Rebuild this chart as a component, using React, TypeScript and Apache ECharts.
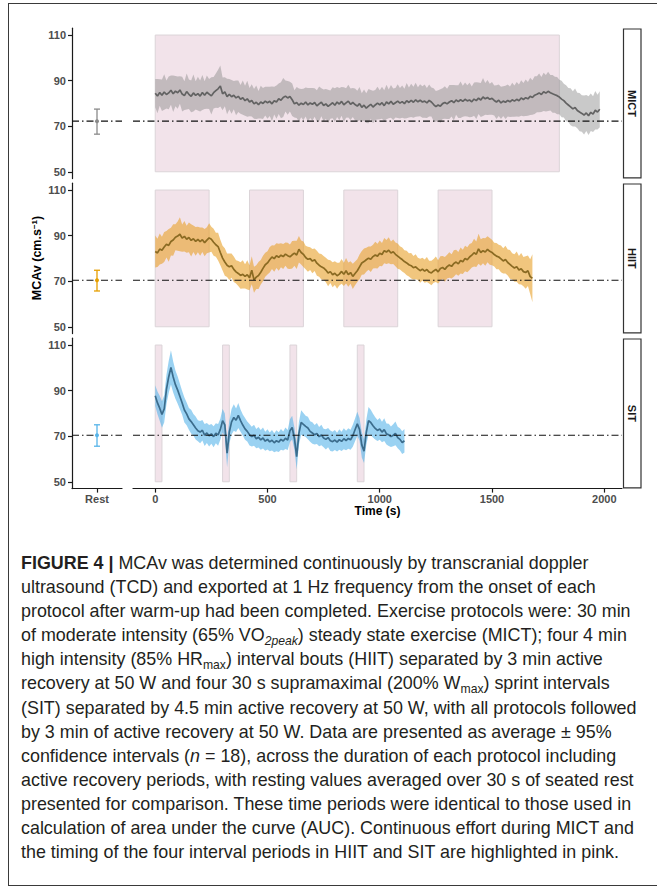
import React, { useEffect, useRef } from "react";
import * as echarts from "echarts";

// ---------- data ----------
const STEP = 10; // seconds between samples
const PROTOCOLS = ["MICT", "HIIT", "SIT"];
const X_TICKS = [0, 500, 1000, 1500, 2000];
const Y_TICKS = [50, 70, 90, 110];
const REST_LABEL = "Rest";
const REST_MEAN = [72.2, 70.4, 70.4];
const REST_LOW = [66.5, 65.7, 65.6];
const REST_HIGH = [77.5, 74.8, 75.0];
const BLOCK_Y = [50, 110];
const MICT_BLOCKS = [[0, 1800]];
const HIIT_BLOCKS = [[0, 240], [420, 660], [840, 1080], [1260, 1500]];
const SIT_BLOCKS = [[0, 30], [300, 330], [600, 630], [900, 930]];

const MICT_MEAN = [
  84.5, 83.2, 84.8, 83.6, 85.0, 83.9, 84.6, 85.8, 84.2, 85.4,
  84.7, 85.9, 84.1, 83.4, 85.2, 84.0, 83.1, 84.6, 83.5, 84.3,
  83.2, 84.8, 83.6, 84.9, 84.1, 83.3, 84.7, 85.6, 86.4, 87.6,
  84.2, 85.1, 83.0, 84.0, 82.9, 83.6, 82.4, 83.1, 81.8, 82.5,
  81.2, 82.0, 80.6, 81.3, 79.8, 80.5, 79.4, 80.6, 80.0, 81.0,
  80.3, 80.9, 79.8, 81.2, 80.6, 82.0, 81.4, 82.6, 83.2, 82.4,
  83.0, 81.6, 79.8, 80.4, 79.2, 80.1, 79.5, 80.6, 79.3, 80.2,
  79.6, 80.4, 78.9, 79.8, 80.5, 79.1, 79.8, 78.7, 79.5, 80.3,
  79.2, 80.6, 79.7, 80.9, 79.4, 80.2, 81.0, 79.6, 80.4, 79.5,
  78.8, 79.9, 78.3, 79.2, 77.9, 78.8, 79.6, 78.4, 79.3, 80.1,
  79.4, 80.3, 79.0, 80.6, 79.8, 80.9, 79.6, 80.3, 81.0, 80.1,
  80.8, 79.9, 81.2, 80.4, 81.3, 80.5, 81.6, 80.7, 81.4, 80.6,
  81.0, 80.2, 81.3, 80.6, 79.5, 78.6, 79.3, 78.8, 79.9, 80.4,
  79.8, 80.6, 81.2, 80.3, 81.5, 80.8, 81.6, 80.9, 81.8, 81.1,
  81.5, 80.7, 81.9, 81.2, 82.3, 81.5, 82.8, 82.0, 82.6, 81.8,
  82.2, 81.3, 80.6, 81.4, 80.2, 81.0, 80.5, 81.3, 80.7, 81.6,
  81.0, 81.8, 81.2, 82.4, 81.7, 82.5, 82.0, 83.1, 82.6, 83.6,
  84.0, 84.6, 83.9, 85.1, 84.5, 85.3, 84.7, 84.2, 83.8, 83.4,
  82.8, 81.9, 81.2, 80.1, 79.3, 78.5, 77.6, 78.2, 76.9, 76.2,
  75.6, 74.9, 75.8, 74.6, 76.1, 75.3, 77.0, 76.2, 77.4,
];
const MICT_CI = [
  6.2, 7.5, 5.8, 6.9, 7.8, 6.1, 7.2, 6.4, 8.0, 6.6,
  7.1, 6.0, 7.6, 6.3, 7.9, 6.5, 7.0, 8.1, 6.2, 7.4,
  6.8, 7.7, 6.1, 7.3, 6.6, 8.2, 6.9, 7.5, 8.4, 9.0,
  7.2, 6.4, 7.8, 6.7, 7.4, 6.2, 7.6, 6.9, 6.3, 7.5,
  6.6, 7.9, 6.2, 7.1, 6.5, 7.4, 6.0, 7.2, 6.8, 6.3,
  7.0, 6.4, 7.6, 6.1, 7.3, 6.7, 7.9, 8.6, 6.8, 7.4,
  6.5, 7.1, 6.0, 6.8, 7.3, 6.2, 6.9, 6.4, 7.5, 6.6,
  7.2, 6.3, 6.9, 7.6, 6.1, 7.0, 6.5, 7.3, 6.2, 6.8,
  7.4, 6.6, 7.1, 6.3, 7.7, 6.5, 7.2, 6.9, 6.4, 7.0,
  6.7, 7.3, 6.2, 6.9, 6.5, 7.5, 6.3, 7.1, 6.6, 7.2,
  6.4, 7.0, 6.8, 7.6, 6.3, 7.2, 6.9, 6.5, 7.4, 6.7,
  7.1, 6.5, 7.7, 6.6, 7.3, 6.8, 7.5, 6.4, 7.0, 6.9,
  7.3, 6.6, 7.0, 6.4, 7.2, 6.8, 6.5, 7.4, 6.7, 7.1,
  6.6, 7.5, 6.9, 7.8, 6.5, 7.2, 8.0, 6.8, 7.4, 6.9,
  7.6, 6.7, 7.3, 8.1, 6.9, 7.5, 8.3, 7.0, 7.7, 6.8,
  7.2, 6.6, 7.4, 6.9, 7.1, 6.5, 7.3, 7.0, 6.7, 7.5,
  6.9, 7.6, 7.1, 7.8, 7.3, 8.0, 7.4, 8.2, 7.6, 8.3,
  7.9, 8.5, 7.7, 8.4, 8.0, 8.6, 7.8, 8.3, 7.9, 8.2,
  7.6, 8.0, 7.4, 7.9, 7.5, 8.1, 7.7, 8.3, 7.8, 8.4,
  8.0, 8.6, 7.9, 8.5, 8.2, 7.8, 8.4, 7.6, 7.9,
];

const HIIT_MEAN = [
  83.0, 82.4, 84.1, 83.6, 85.0, 86.2, 85.7, 87.4, 88.1, 89.3,
  89.8, 90.6, 88.9, 89.7, 88.4, 89.2, 87.9, 88.6, 87.5, 88.3,
  87.4, 88.2, 86.9, 88.0, 89.0, 88.4, 87.1, 86.0, 85.2, 82.6,
  80.1, 78.4, 77.0, 76.3, 76.8, 75.2, 74.1, 73.4, 72.5, 73.0,
  72.1, 72.8, 71.5, 74.8, 70.6, 71.8, 72.5, 73.9, 75.6, 77.2,
  78.0, 79.4, 80.6, 79.9, 81.2, 80.5, 81.4, 80.8, 81.9, 81.2,
  80.7, 81.6, 82.3, 81.5, 84.0, 82.6, 81.8, 80.4, 79.6, 79.9,
  78.8, 79.4, 77.9, 77.0, 76.3, 75.8, 74.9, 73.6, 74.2, 72.8,
  73.5, 72.4, 73.1, 74.3, 73.0, 74.6, 72.9, 73.8, 72.1, 73.4,
  74.6, 76.3, 78.0, 78.6, 79.4, 80.1, 79.6, 80.8, 81.5, 81.0,
  82.3, 81.7, 83.4, 82.8, 83.6, 82.4, 82.9, 81.8, 81.0, 80.2,
  79.5, 78.6, 78.0, 77.2, 76.8, 75.9, 76.3, 75.4, 74.6, 75.3,
  74.4, 75.1, 74.0, 73.6, 74.5, 75.2, 74.1, 75.6, 76.0, 75.2,
  76.4, 77.1, 76.5, 77.8, 78.4, 77.6, 79.1, 78.5, 80.0, 79.4,
  80.6, 81.4, 82.5, 81.8, 84.2, 82.6, 83.4, 82.8, 84.0, 83.1,
  82.6, 81.7, 81.0, 80.6, 79.8, 78.9, 79.5, 78.2, 77.4, 76.5,
  75.8, 76.4, 74.9, 75.5, 74.2, 73.8, 74.6, 72.0, 71.3,
];
const HIIT_CI = [
  7.0, 6.2, 6.8, 5.9, 6.6, 5.8, 7.2, 6.1, 6.9, 5.7,
  6.4, 7.5, 6.0, 6.7, 5.9, 6.5, 7.1, 5.8, 6.3, 5.6,
  6.2, 5.4, 6.0, 5.7, 6.4, 5.5, 5.9, 5.3, 6.1, 5.6,
  5.4, 6.0, 5.2, 5.8, 5.3, 5.6, 5.1, 5.5, 5.8, 6.2,
  5.3, 6.4, 5.5, 6.1, 5.7, 5.2, 5.9, 5.4, 5.6, 5.3,
  5.1, 5.6, 5.2, 5.8, 5.4, 5.9, 5.3, 5.5, 5.1, 5.7,
  5.4, 6.0, 5.5, 6.2, 5.8, 5.3, 5.6, 5.2, 5.5, 5.0,
  5.3, 4.9, 5.5, 5.1, 5.6, 5.2, 5.4, 5.8, 5.0, 5.5,
  5.2, 5.7, 5.0, 5.4, 5.1, 5.6, 5.3, 4.9, 5.5, 5.2,
  5.0, 5.4, 5.2, 5.7, 5.3, 5.1, 5.6, 5.2, 5.8, 5.4,
  5.6, 5.1, 5.5, 5.3, 5.7, 5.0, 5.4, 5.2, 5.5, 5.1,
  5.3, 5.0, 5.4, 5.1, 5.6, 5.2, 5.5, 4.9, 5.3, 5.0,
  5.1, 5.5, 5.0, 5.4, 5.2, 5.6, 5.1, 5.3, 5.0, 5.4,
  5.2, 5.6, 5.3, 5.8, 5.4, 5.2, 5.7, 5.3, 5.6, 5.5,
  5.7, 5.4, 6.1, 5.6, 6.6, 5.8, 5.5, 6.0, 5.7, 5.9,
  5.6, 5.2, 5.8, 5.4, 5.9, 5.5, 6.1, 5.7, 6.3, 5.8,
  6.0, 6.6, 6.2, 6.9, 6.4, 7.1, 6.7, 7.6, 10.5,
];

const SIT_MEAN = [
  87.8, 84.6, 82.3, 79.5, 82.0, 90.5, 96.0, 100.2, 96.0, 92.6,
  90.2, 87.4, 84.6, 81.5, 79.8, 77.6, 76.4, 75.0, 73.6, 72.4,
  71.8, 72.6, 70.5, 71.4, 70.2, 71.0, 69.8, 71.3, 70.6, 73.0,
  76.8, 75.0, 62.5, 71.8, 76.3, 78.2, 77.0, 79.1, 76.8, 74.9,
  73.2, 72.1, 70.6, 69.8, 70.4, 68.9, 69.5, 68.4, 69.2, 67.8,
  68.6, 67.5, 68.2, 67.1, 68.0, 67.4, 68.6, 67.9, 69.1, 68.3,
  72.4, 73.8, 69.0, 61.0, 71.2, 76.0, 75.2, 74.3, 73.6, 72.1,
  71.4, 70.6, 71.2, 69.8, 70.5, 69.2, 68.6, 69.4, 68.0, 67.6,
  68.3, 67.4, 68.5, 67.7, 68.9, 68.1, 69.0, 68.4, 70.2, 72.8,
  75.4, 73.0, 66.2, 63.4, 71.6, 76.8, 76.0, 74.6, 73.4, 72.5,
  73.2, 71.8, 72.9, 71.0, 70.6, 69.8, 70.4, 71.2, 69.4, 68.6,
  67.2, 68.0,
];
const SIT_CI = [
  4.5, 5.0, 5.5, 5.8, 6.0, 6.5, 7.0, 7.5, 6.8, 6.2,
  6.0, 5.6, 5.2, 5.5, 5.0, 4.8, 5.2, 4.7, 5.0, 4.6,
  4.9, 4.5, 4.8, 4.4, 4.7, 4.3, 4.6, 4.4, 4.8, 4.6,
  5.2, 5.0, 6.0, 5.0, 5.6, 5.8, 5.2, 5.5, 4.9, 4.6,
  4.8, 4.4, 4.7, 4.3, 4.6, 4.2, 4.5, 4.3, 4.6, 4.2,
  4.4, 4.1, 4.5, 4.2, 4.6, 4.3, 4.5, 4.2, 4.7, 4.4,
  5.0, 5.2, 4.8, 5.5, 5.0, 5.4, 5.0, 4.7, 4.9, 4.5,
  4.7, 4.3, 4.6, 4.2, 4.5, 4.1, 4.4, 4.2, 4.5, 4.3,
  4.4, 4.1, 4.5, 4.2, 4.6, 4.3, 4.5, 4.4, 4.8, 5.0,
  5.3, 5.0, 5.6, 5.2, 5.5, 6.0, 5.6, 5.2, 4.9, 4.6,
  4.8, 4.5, 5.0, 4.6, 4.9, 4.5, 4.8, 5.2, 4.7, 4.9,
  5.0, 5.2,
];

// ---------- layout / style ----------
const W = 657;
const H = 893;
const PANEL_TOP = [28.2, 183.2, 338.2];
const PANEL_H = 150.4;
const REST_LEFT = 72;
const REST_W = 50;
const TIME_LEFT = 133;
const TIME_W = 489;
const X_MIN = -99;
const X_MAX = 2079;
const Y_MIN = 47;
const Y_MAX = 113;
const FONT = "'Liberation Sans', Arial, Helvetica, sans-serif";

const PANELS = [
  { mean: MICT_MEAN, ci: MICT_CI, blocks: MICT_BLOCKS, band: "rgba(135,135,135,0.45)", line: "#626262", rest: "#8a8a8a" },
  { mean: HIIT_MEAN, ci: HIIT_CI, blocks: HIIT_BLOCKS, band: "rgba(232,160,40,0.6)", line: "#8a6a22", rest: "#e69f00" },
  { mean: SIT_MEAN, ci: SIT_CI, blocks: SIT_BLOCKS, band: "rgba(86,180,233,0.6)", line: "#3b6c8c", rest: "#56b4e9" },
];

function buildOption() {
  const grid: any[] = [];
  const xAxis: any[] = [];
  const yAxis: any[] = [];
  const series: any[] = [];
  const graphic: any[] = [];
  const axisLineStyle = { color: "#1a1a1a", width: 1.2 };
  const labelStyle = { color: "#4d4d4d", fontWeight: "bold", fontSize: 11, fontFamily: FONT };

  PANELS.forEach((pn, p) => {
    const top = PANEL_TOP[p];
    const isBottom = p === PANELS.length - 1;
    const gr = 2 * p;
    const gt = 2 * p + 1;
    grid.push({ left: REST_LEFT, top, width: REST_W, height: PANEL_H });
    grid.push({ left: TIME_LEFT, top, width: TIME_W, height: PANEL_H });

    xAxis.push({
      gridIndex: gr, type: "value", min: 0, max: 2, show: isBottom,
      axisLine: { show: true, lineStyle: axisLineStyle, onZero: false },
      axisTick: { show: true, length: 4, customValues: [1], lineStyle: axisLineStyle },
      axisLabel: { ...labelStyle, margin: 5, customValues: [1], formatter: () => REST_LABEL },
      splitLine: { show: false },
    });
    xAxis.push({
      gridIndex: gt, type: "value", min: X_MIN, max: X_MAX, show: isBottom,
      axisLine: { show: true, lineStyle: axisLineStyle, onZero: false },
      axisTick: { show: true, length: 4, customValues: X_TICKS, lineStyle: axisLineStyle },
      axisLabel: { ...labelStyle, margin: 5, customValues: X_TICKS, formatter: (v: number) => String(v) },
      splitLine: { show: false },
    });
    yAxis.push({
      gridIndex: gr, type: "value", min: Y_MIN, max: Y_MAX,
      axisLine: { show: true, lineStyle: axisLineStyle, onZero: false },
      axisTick: { show: true, length: 4, customValues: Y_TICKS, lineStyle: axisLineStyle },
      axisLabel: { ...labelStyle, margin: 6, customValues: Y_TICKS, formatter: (v: number) => String(v) },
      splitLine: { show: false },
    });
    yAxis.push({ gridIndex: gt, type: "value", min: Y_MIN, max: Y_MAX, show: false, splitLine: { show: false } });

    // pink highlighted periods
    series.push({
      type: "custom", xAxisIndex: gt, yAxisIndex: gt, silent: true,
      data: pn.blocks,
      renderItem: (_params: any, api: any) => {
        const a = api.coord([api.value(0), BLOCK_Y[1]]);
        const b = api.coord([api.value(1), BLOCK_Y[0]]);
        return {
          type: "rect",
          shape: { x: a[0], y: a[1], width: b[0] - a[0], height: b[1] - a[1] },
          style: { fill: "#f2e3ea", stroke: "#dbd4d8", lineWidth: 1 },
        };
      },
    });

    // 95% CI ribbon
    series.push({
      type: "custom", xAxisIndex: gt, yAxisIndex: gt, silent: true,
      data: [0],
      renderItem: (_params: any, api: any) => {
        const pts: number[][] = [];
        for (let i = 0; i < pn.mean.length; i++) pts.push(api.coord([i * STEP, pn.mean[i] + pn.ci[i]]));
        for (let i = pn.mean.length - 1; i >= 0; i--) pts.push(api.coord([i * STEP, pn.mean[i] - pn.ci[i]]));
        return { type: "polygon", shape: { points: pts }, style: { fill: pn.band } };
      },
    });

    // mean line
    series.push({
      type: "line", xAxisIndex: gt, yAxisIndex: gt, silent: true,
      showSymbol: false, symbol: "none",
      data: pn.mean.map((v, i) => [i * STEP, v]),
      lineStyle: { color: pn.line, width: 1.7 },
    });

    // resting reference line (dash-dot)
    const dash = { color: "#111111", width: 1.1, type: [7, 3, 1.5, 3] };
    series.push({
      type: "line", xAxisIndex: gt, yAxisIndex: gt, silent: true, symbol: "none",
      data: [[X_MIN, REST_MEAN[p]], [X_MAX, REST_MEAN[p]]], lineStyle: dash, z: 5,
    });
    series.push({
      type: "line", xAxisIndex: gr, yAxisIndex: gr, silent: true, symbol: "none",
      data: [[0, REST_MEAN[p]], [2, REST_MEAN[p]]], lineStyle: dash, z: 5,
    });

    // rest error bar
    series.push({
      type: "custom", xAxisIndex: gr, yAxisIndex: gr, silent: true, z: 6,
      data: [[1, REST_LOW[p], REST_HIGH[p], REST_MEAN[p]]],
      renderItem: (_params: any, api: any) => {
        const lo = api.coord([api.value(0), api.value(1)]);
        const hi = api.coord([api.value(0), api.value(2)]);
        const m = api.coord([api.value(0), api.value(3)]);
        const st = { stroke: pn.rest, lineWidth: 1.3 };
        return {
          type: "group",
          children: [
            { type: "line", shape: { x1: lo[0], y1: lo[1], x2: hi[0], y2: hi[1] }, style: st },
            { type: "line", shape: { x1: lo[0] - 3, y1: lo[1], x2: lo[0] + 3, y2: lo[1] }, style: st },
            { type: "line", shape: { x1: hi[0] - 3, y1: hi[1], x2: hi[0] + 3, y2: hi[1] }, style: st },
            { type: "circle", shape: { cx: m[0], cy: m[1], r: 2 }, style: { fill: pn.rest } },
          ],
        };
      },
    });

    // facet strip
    const sx = TIME_LEFT + TIME_W + 1;
    graphic.push({
      type: "rect", shape: { x: sx + 0.5, y: top + 0.8, width: 17.5, height: PANEL_H - 1.6 },
      style: { fill: "#ffffff", stroke: "#333333", lineWidth: 1.2 },
    });
    graphic.push({
      type: "text", x: sx + 9.25, y: top + PANEL_H / 2, rotation: -Math.PI / 2,
      style: {
        text: PROTOCOLS[p], fill: "#1a1a1a", font: `bold 11px ${FONT}`,
        align: "center", verticalAlign: "middle",
      },
    });
  });

  graphic.push({
    type: "text", x: TIME_LEFT + TIME_W / 2, y: 511,
    style: { text: "Time (s)", fill: "#000", font: `bold 12px ${FONT}`, align: "center", verticalAlign: "middle" },
  });
  graphic.push({
    type: "text", x: 37, y: 258, rotation: Math.PI / 2,
    style: {
      text: "MCAv (cm.s{sup|−1})", fill: "#000", font: `bold 12.5px ${FONT}`,
      align: "center", verticalAlign: "middle",
      rich: { sup: { fontSize: 8, fontWeight: "bold", fontFamily: FONT, fill: "#000", verticalAlign: "top", padding: [0, 0, 6, 0] } },
    },
  });

  return { animation: false, grid, xAxis, yAxis, series, graphic };
}

function Chart() {
  const ref = useRef<HTMLDivElement>(null);
  useEffect(() => {
    if (!ref.current) return;
    const chart = echarts.init(ref.current, null, { renderer: "svg" });
    chart.setOption(buildOption() as any);
    return () => chart.dispose();
  }, []);
  return <div ref={ref} style={{ position: "absolute", left: 0, top: 0, width: W, height: 530 }} />;
}

const subStyle: React.CSSProperties = { fontSize: "0.68em", verticalAlign: "-0.3em", lineHeight: 0 };

const CAPTION_LINES: React.ReactNode[] = [
  <><b>FIGURE 4 |</b> MCAv was determined continuously by transcranial doppler</>,
  <>ultrasound (TCD) and exported at 1 Hz frequency from the onset of each</>,
  <>protocol after warm-up had been completed. Exercise protocols were: 30 min</>,
  <>of moderate intensity (65% VO<span style={subStyle}><i>2peak</i></span>) steady state exercise (MICT); four 4 min</>,
  <>high intensity (85% HR<span style={subStyle}>max</span>) interval bouts (HIIT) separated by 3 min active</>,
  <>recovery at 50 W and four 30 s supramaximal (200% W<span style={subStyle}>max</span>) sprint intervals</>,
  <>(SIT) separated by 4.5 min active recovery at 50 W, with all protocols followed</>,
  <>by 3 min of active recovery at 50 W. Data are presented as average ± 95%</>,
  <>confidence intervals (<i>n</i> = 18), across the duration of each protocol including</>,
  <>active recovery periods, with resting values averaged over 30 s of seated rest</>,
  <>presented for comparison. These time periods were identical to those used in</>,
  <>calculation of area under the curve (AUC). Continuous effort during MICT and</>,
  <>the timing of the four interval periods in HIIT and SIT are highlighted in pink.</>,
];

export default function App() {
  return (
    <div style={{ position: "absolute", left: 0, top: 0, width: W, height: H, overflow: "hidden", background: "#fff" }}>
      <div style={{ position: "absolute", left: 8, top: 3, width: 700, height: 883, border: "1px solid #3a3a3a", boxSizing: "border-box" }} />
      <Chart />
      <div style={{ position: "absolute", left: 21, top: 551, fontFamily: FONT, fontSize: 17.9, lineHeight: "24.1px", color: "#231f20" }}>
        {CAPTION_LINES.map((l, i) => (
          <div key={i} style={{ whiteSpace: "nowrap" }}>{l}</div>
        ))}
      </div>
    </div>
  );
}
